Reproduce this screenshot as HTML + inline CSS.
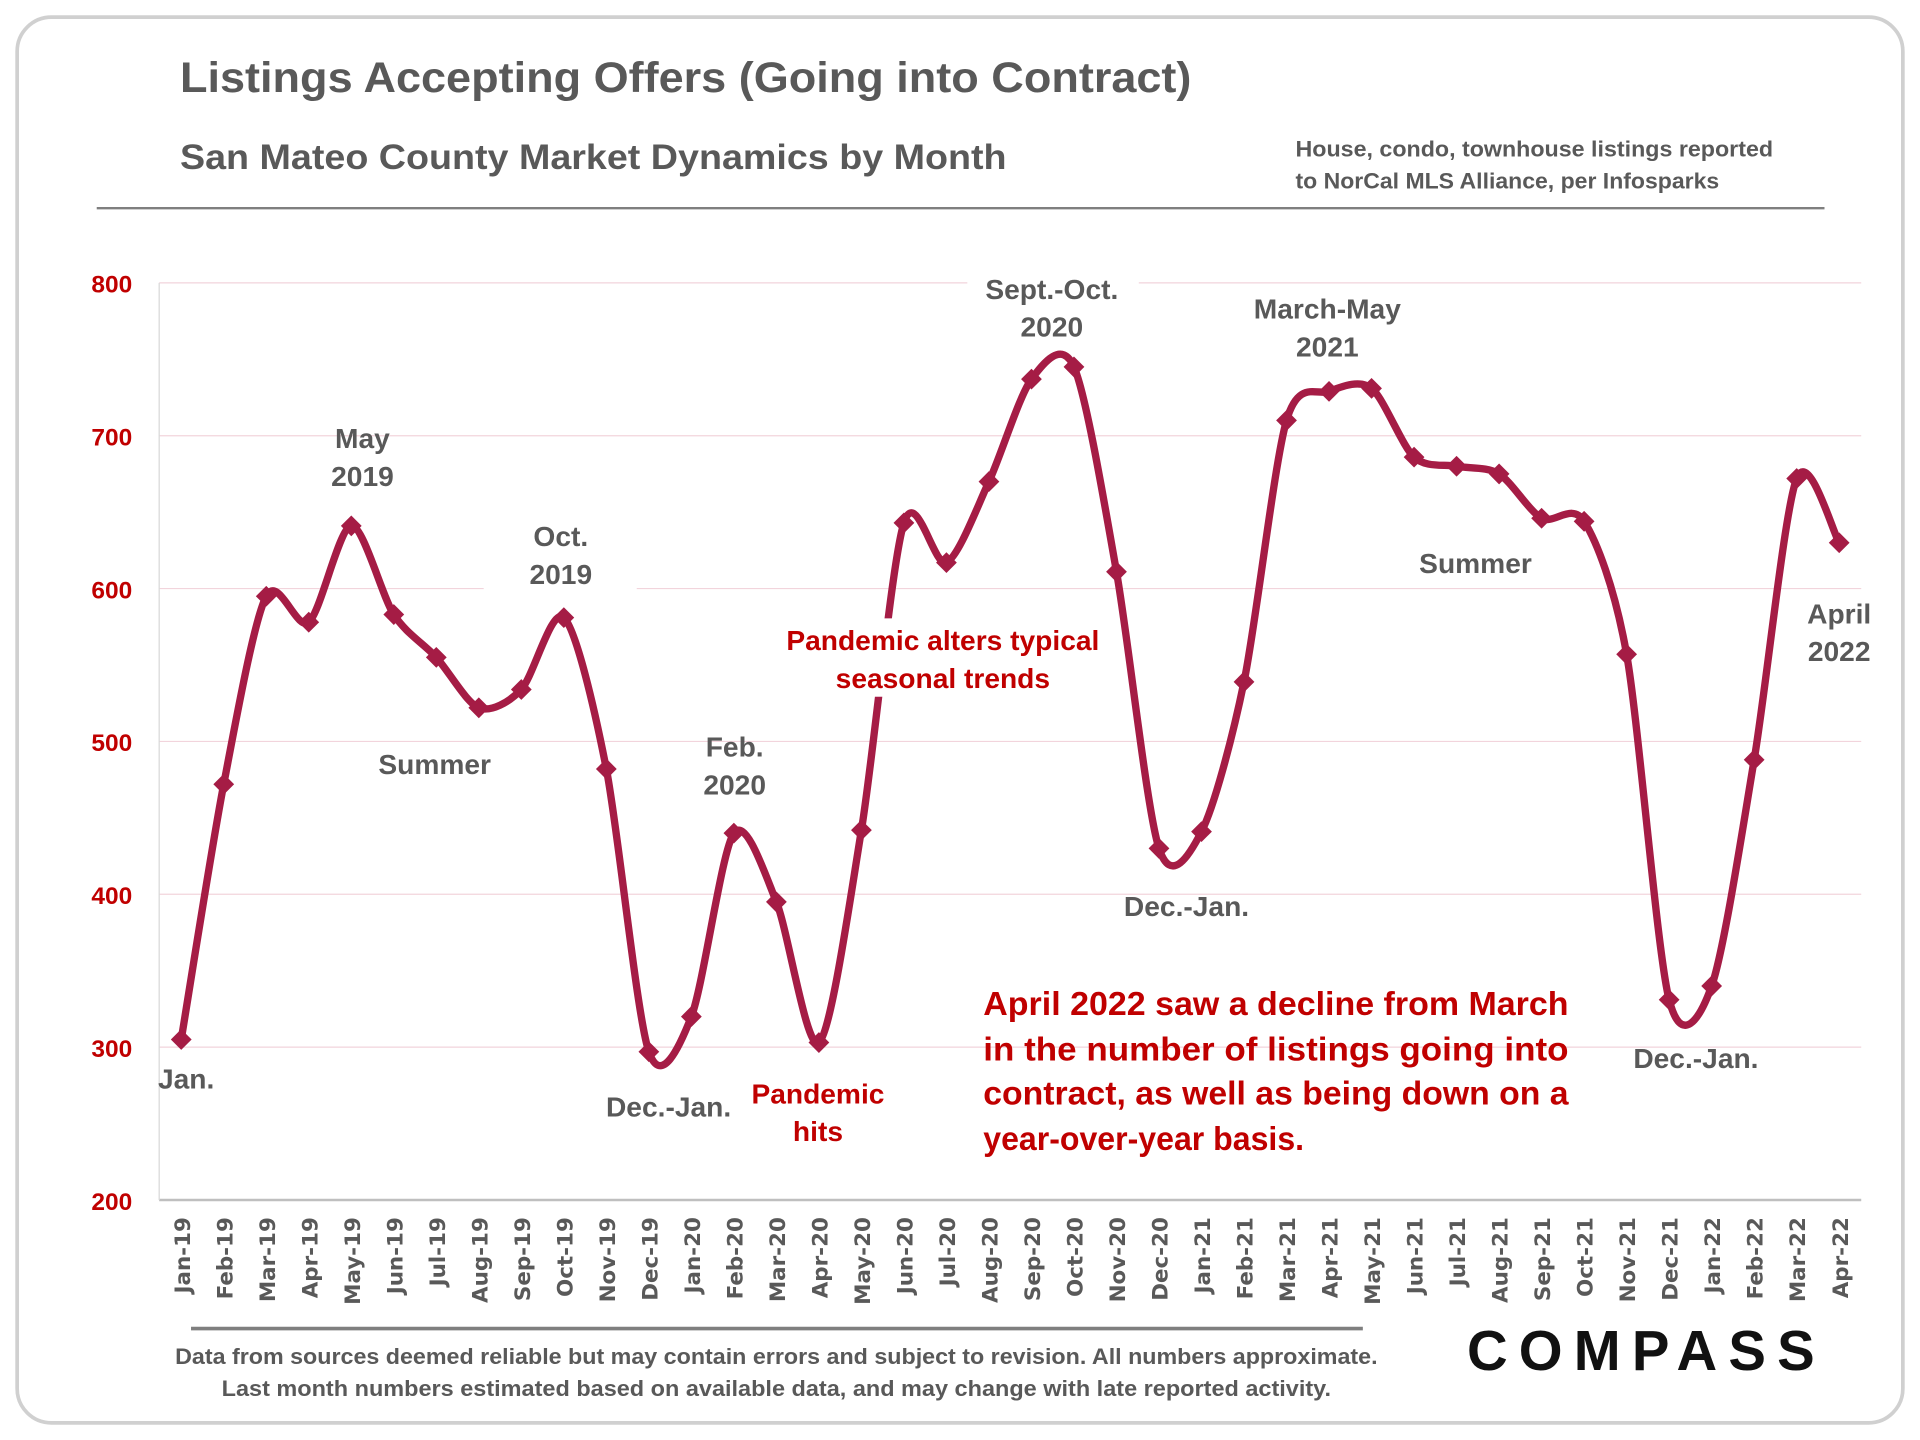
<!DOCTYPE html>
<html><head><meta charset="utf-8"><style>
html,body{margin:0;padding:0;background:#fff;}
svg{display:block;font-family:"Liberation Sans",sans-serif;}
</style></head><body>
<svg id="chart" width="1920" height="1440" viewBox="0 0 1568 1176" xmlns="http://www.w3.org/2000/svg">
<rect x="14" y="14" width="1540" height="1148" rx="28" fill="#fff" stroke="#d0d0d0" stroke-width="3"/>
<text x="147" y="75" font-size="35" font-weight="bold" fill="#595959" textLength="826" lengthAdjust="spacingAndGlyphs">Listings Accepting Offers (Going into Contract)</text>
<text x="147" y="138" font-size="29" font-weight="bold" fill="#595959" textLength="675" lengthAdjust="spacingAndGlyphs">San Mateo County Market Dynamics by Month</text>
<text font-size="18" font-weight="bold" fill="#595959"><tspan x="1058" y="128" textLength="390" lengthAdjust="spacingAndGlyphs">House, condo, townhouse listings reported</tspan><tspan x="1058" y="154" textLength="346" lengthAdjust="spacingAndGlyphs">to NorCal MLS Alliance, per Infosparks</tspan></text>
<line x1="79" y1="170" x2="1490" y2="170" stroke="#7f7f7f" stroke-width="2"/>
<g id="grid"></g>
<g id="yticks"></g>
<g id="xticks"></g>
<path id="line" fill="none" stroke="#a51c45" stroke-width="6"/>
<g id="marks"></g>
<g id="annotations" font-weight="bold" font-size="23" text-anchor="middle" fill="#595959">
<text x="152" y="889">Jan.</text>
<text x="296" y="366">May</text>
<text x="296" y="397">2019</text>
<text x="355" y="632">Summer</text>
<rect x="395" y="425" width="125" height="62" fill="#fff"/>
<text x="458" y="446">Oct.</text>
<text x="458" y="477">2019</text>
<text x="546" y="912">Dec.-Jan.</text>
<text x="600" y="618">Feb.</text>
<text x="600" y="649">2020</text>
<text x="668" y="901" fill="#c00000">Pandemic</text>
<text x="668" y="932" fill="#c00000">hits</text>
<rect x="640" y="505" width="265" height="64" fill="#fff"/>
<text x="770" y="531" fill="#c00000">Pandemic alters typical</text>
<text x="770" y="562" fill="#c00000">seasonal trends</text>
<rect x="790" y="220" width="140" height="60" fill="#fff"/>
<text x="859" y="244">Sept.-Oct.</text>
<text x="859" y="275">2020</text>
<text x="969" y="748">Dec.-Jan.</text>
<rect x="1005" y="236" width="160" height="60" fill="#fff"/>
<text x="1084" y="260">March-May</text>
<text x="1084" y="291">2021</text>
<text x="1205" y="468">Summer</text>
<text x="1385" y="872">Dec.-Jan.</text>
<text x="1502" y="509">April</text>
<text x="1502" y="540">2022</text>
</g>
<text font-size="27" font-weight="bold" fill="#c00000"><tspan x="803" y="829" textLength="478" lengthAdjust="spacingAndGlyphs">April 2022 saw a decline from March</tspan><tspan x="803" y="866" textLength="478" lengthAdjust="spacingAndGlyphs">in the number of listings going into</tspan><tspan x="803" y="902" textLength="478" lengthAdjust="spacingAndGlyphs">contract, as well as being down on a</tspan><tspan x="803" y="939" textLength="262" lengthAdjust="spacingAndGlyphs">year-over-year basis.</tspan></text>
<line x1="156" y1="1085" x2="1113" y2="1085" stroke="#7f7f7f" stroke-width="3"/>
<text font-size="18" font-weight="bold" fill="#595959" text-anchor="middle"><tspan x="634" y="1114" textLength="982" lengthAdjust="spacingAndGlyphs">Data from sources deemed reliable but may contain errors and subject to revision. All numbers approximate.</tspan><tspan x="634" y="1140" textLength="906" lengthAdjust="spacingAndGlyphs">Last month numbers estimated based on available data, and may change with late reported activity.</tspan></text>
<text x="1340" y="1119" font-size="46" font-weight="bold" fill="#111" text-anchor="middle" textLength="284" lengthAdjust="spacing">COMPASS</text>
</svg>
<script>
const categories=["Jan-19","Feb-19","Mar-19","Apr-19","May-19","Jun-19","Jul-19","Aug-19","Sep-19","Oct-19","Nov-19","Dec-19","Jan-20","Feb-20","Mar-20","Apr-20","May-20","Jun-20","Jul-20","Aug-20","Sep-20","Oct-20","Nov-20","Dec-20","Jan-21","Feb-21","Mar-21","Apr-21","May-21","Jun-21","Jul-21","Aug-21","Sep-21","Oct-21","Nov-21","Dec-21","Jan-22","Feb-22","Mar-22","Apr-22"];
const values=[305,472,595,578,641,583,555,522,534,581,482,297,320,440,395,303,442,643,617,670,737,745,611,430,441,539,710,729,731,686,680,675,646,644,557,331,340,488,672,630];
const yTicks=[200,300,400,500,600,700,800];
const NS="http://www.w3.org/2000/svg";
const X0=148,X1=1502,Y0=980,Y1=231,YMIN=200,YMAX=800;
function xs(i){return X0+(X1-X0)*i/(categories.length-1);}
function ys(v){return Y0-(Y0-Y1)*(v-YMIN)/(YMAX-YMIN);}
function mk(tag,attrs,parent){const e=document.createElementNS(NS,tag);for(const k in attrs)e.setAttribute(k,attrs[k]);document.getElementById(parent).appendChild(e);return e;}
yTicks.forEach(t=>{
  const y=ys(t);
  const g=mk("line",{x1:130,x2:1520,y1:y,y2:y,stroke:t===YMIN?"#bfbfbf":"#f2d4dc","stroke-width":t===YMIN?2:1},"grid");
  
  
  const l=mk("text",{x:108,y:y+8,"text-anchor":"end","font-size":20,"font-weight":"bold",fill:"#c00000"},"yticks");
  l.textContent=t;
  
  
});
const ax=mk("line",{x1:130,x2:130,y1:231,y2:980,stroke:"#d9d9d9","stroke-width":1},"grid");


categories.forEach((c,i)=>{
  const x=xs(i);
  const t=mk("text",{transform:`translate(${x+7},994) rotate(-90)`,"text-anchor":"end","font-size":17.5,"font-weight":"bold",fill:"#595959","font-family":"DejaVu Sans, sans-serif"},"xticks");
  t.textContent=c;
  
  
});
const pts=values.map((v,i)=>[xs(i),ys(v)]);
let d=`M${pts[0][0]},${pts[0][1]}`;
const K=7;
for(let i=0;i<pts.length-1;i++){
  const p0=pts[Math.max(0,i-1)],p1=pts[i],p2=pts[i+1],p3=pts[Math.min(pts.length-1,i+2)];
  const c1=[p1[0]+(p2[0]-p0[0])/K,p1[1]+(p2[1]-p0[1])/K];
  const c2=[p2[0]-(p3[0]-p1[0])/K,p2[1]-(p3[1]-p1[1])/K];
  d+=`C${c1[0]},${c1[1]} ${c2[0]},${c2[1]} ${p2[0]},${p2[1]}`;
}
document.getElementById("line").setAttribute("d",d);
pts.forEach(p=>{
  const m=mk("rect",{x:p[0]-6,y:p[1]-6,width:12,height:12,fill:"#a51c45",transform:`rotate(45 ${p[0]} ${p[1]})`},"marks");
  
  
});
</script>
</body></html>
